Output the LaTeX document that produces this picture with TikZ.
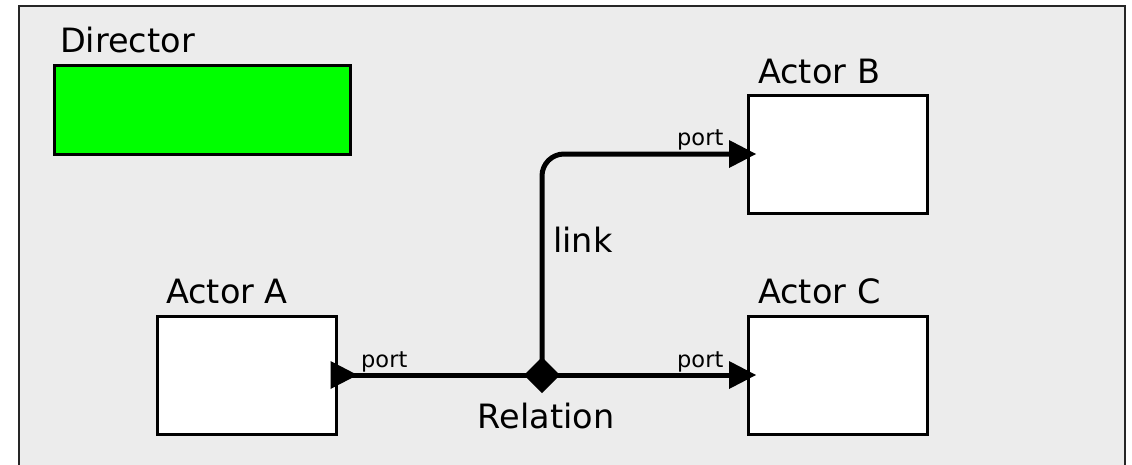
\documentclass[tikz,border=0pt]{standalone}
\usepackage{fontspec}
\setmainfont{DejaVu Sans}

\definecolor{canvas}{HTML}{ECECEC}
\definecolor{dirgreen}{HTML}{00FF00}

\tikzset{
  label text/.style={font=\fontsize{33.5}{40}\selectfont, inner sep=0pt, anchor=base west},
  port text/.style={font=\fontsize{22.5}{27}\selectfont, inner sep=0pt, anchor=base west},
  actorbox/.style={draw=black, line width=3pt, fill=white, minimum width=179pt,
    minimum height=118pt, inner sep=0pt},
  wire/.style={line width=5pt, black},
}
% filled triangle of a port, pointing right, centred on a named coordinate
\newcommand{\portmark}[1]{%
  \fill ([xshift=-13.5pt,yshift=14pt]#1) -- ([xshift=13.5pt]#1)
        -- ([xshift=-13.5pt,yshift=-14pt]#1) -- cycle;}
% filled diamond of a relation, centred on a named coordinate
\newcommand{\relmark}[1]{%
  \fill ([xshift=-18pt]#1) -- ([yshift=18pt]#1) -- ([xshift=18pt]#1)
        -- ([yshift=-18pt]#1) -- cycle;}

\begin{document}
\begin{tikzpicture}[x=1pt, y=-1pt]
  \useasboundingbox (0,0) rectangle (1132,464);
  % canvas of the model
  \begin{scope}
    \clip (0,0) rectangle (1132,464);
    \draw[line width=2.5pt, draw=black!85, fill=canvas] (19,6) rectangle (1125,470);
  \end{scope}

  % director
  \node[label text] (dirlabel) at (60,52) {Director};
  \node[draw=black, line width=3pt, fill=dirgreen, minimum width=296pt,
        minimum height=89pt, inner sep=0pt] (director) at (202,109.5) {};

  % actors
  \node[actorbox] (actA) at (246.5,375) {};
  \node[actorbox] (actB) at (838,154) {};
  \node[actorbox] (actC) at (838,375) {};
  \node[label text] (labA) at (166,303) {Actor A};
  \node[label text] (labB) at (758,83) {Actor B};
  \node[label text] (labC) at (758,303) {Actor C};

  % ports and relation
  \coordinate (portA) at (344,375);
  \coordinate (portB) at (742.5,154);
  \coordinate (portC) at (742.5,375);
  \coordinate (rel) at (542,375);

  % links
  \draw[wire] (portA) -- (rel);
  \draw[wire] (rel) -- (portC);
  \draw[wire, rounded corners=22pt] (rel) |- (portB);
  \portmark{portA}
  \portmark{portB}
  \portmark{portC}
  \relmark{rel}

  % labels on the links
  \node[port text] (tA) at (361,367) {port};
  \node[port text] (tB) at (677,145) {port};
  \node[port text] (tC) at (677,367) {port};
  \node[label text] (tlink) at (553,252) {link};
  \node[label text, anchor=base] (trel) at (546,428) {Relation};
\end{tikzpicture}
\end{document}
